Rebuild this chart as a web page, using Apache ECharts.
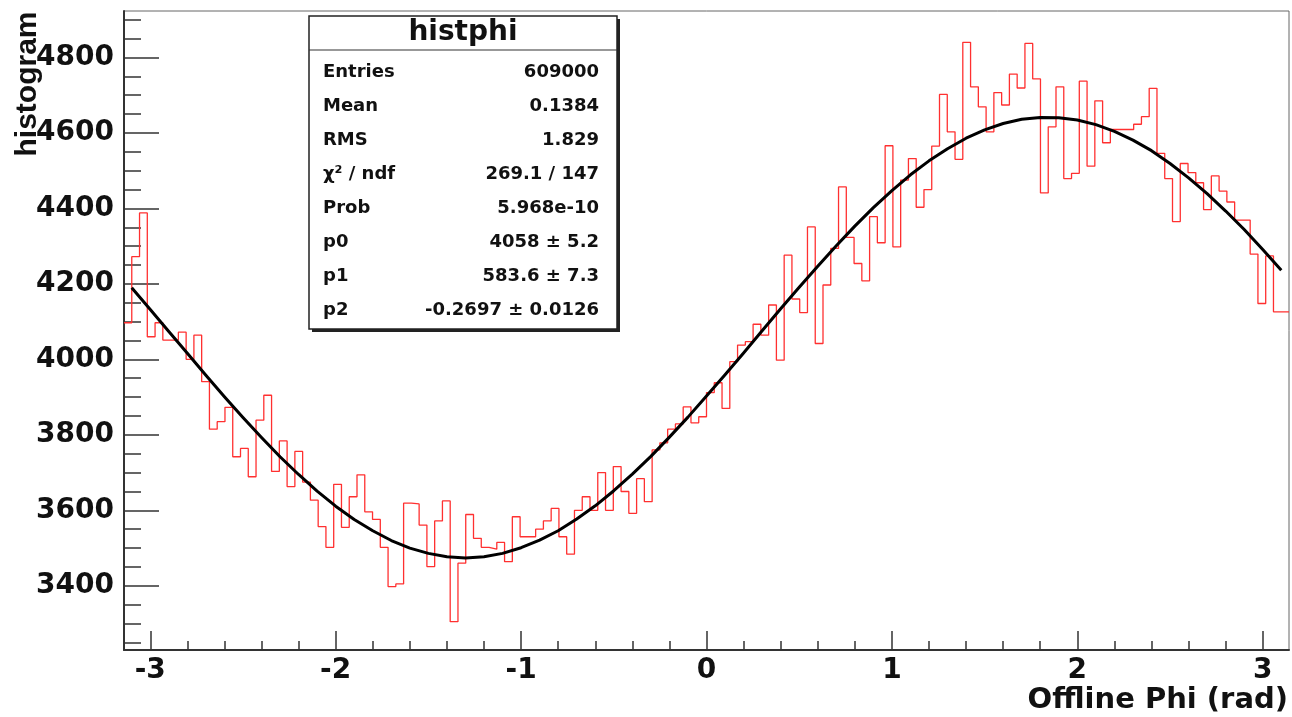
<!DOCTYPE html>
<html>
<head>
<meta charset="utf-8">
<title>histphi</title>
<script src="https://cdn.jsdelivr.net/npm/echarts@6/dist/echarts.min.js"></script>
<style>
  html, body { margin: 0; padding: 0; background: #fff; }
  #chart { width: 1292px; height: 717px; }
</style>
</head>
<body>
<div id="chart"></div>
<script>
// histphi: 150 bins over [-pi, pi], bin contents
const binCounts = [
  4097, 4272, 4388, 4060, 4097, 4051, 4051, 4072, 4000, 4064,
  3941, 3815, 3835, 3873, 3742, 3764, 3689, 3839, 3905, 3703,
  3784, 3663, 3756, 3675, 3627, 3557, 3502, 3669, 3555, 3636,
  3694, 3596, 3576, 3502, 3398, 3405, 3619, 3617, 3561, 3451,
  3572, 3625, 3305, 3460, 3589, 3526, 3502, 3497, 3515, 3464,
  3583, 3530, 3530, 3550, 3572, 3605, 3530, 3484, 3600, 3636,
  3600, 3700, 3600, 3716, 3650, 3592, 3684, 3623, 3760, 3779,
  3815, 3829, 3874, 3832, 3848, 3912, 3938, 3870, 3994, 4038,
  4047, 4093, 4064, 4144, 3998, 4276, 4160, 4124, 4351, 4042,
  4197, 4294, 4457, 4323, 4254, 4208, 4378, 4309, 4566, 4298,
  4475, 4532, 4403, 4450, 4565, 4702, 4603, 4530, 4840, 4722,
  4669, 4603, 4707, 4674, 4756, 4719, 4837, 4743, 4441, 4616,
  4722, 4479, 4493, 4737, 4512, 4685, 4574, 4609, 4609, 4609,
  4623, 4643, 4718, 4546, 4479, 4365, 4519, 4495, 4468, 4397,
  4486, 4446, 4417, 4369, 4369, 4279, 4148, 4274, 4126, 4126
];
const xRange = [-Math.PI, Math.PI];
const yRange = [3230, 4923];

const xMajorTicks = [-3, -2, -1, 0, 1, 2, 3];
const xMinorTicks = [-2.8, -2.6, -2.4, -2.2, -1.8, -1.6, -1.4, -1.2, -0.8, -0.6, -0.4, -0.2,
                     0.2, 0.4, 0.6, 0.8, 1.2, 1.4, 1.6, 1.8, 2.2, 2.4, 2.6, 2.8];
const yMajorTicks = [3400, 3600, 3800, 4000, 4200, 4400, 4600, 4800];
const yMinorTicks = [3250, 3300, 3350, 3450, 3500, 3550, 3650, 3700, 3750, 3850, 3900, 3950,
                     4050, 4100, 4150, 4250, 4300, 4350, 4450, 4500, 4550, 4650, 4700, 4750,
                     4850, 4900];

// fit curve, points every 0.1 rad
const fitX = [
  -3.1, -3.0, -2.9, -2.8, -2.7, -2.6, -2.5, -2.4, -2.3, -2.2, -2.1,
  -2.0, -1.9, -1.8, -1.7, -1.6, -1.5, -1.4, -1.3, -1.2, -1.1,
  -1.0, -0.9, -0.8, -0.7, -0.6, -0.5, -0.4, -0.3, -0.2, -0.1,
  0, 0.1, 0.2, 0.3, 0.4, 0.5, 0.6, 0.7, 0.8, 0.9,
  1.0, 1.1, 1.2, 1.3, 1.4, 1.5, 1.6, 1.7, 1.8, 1.9,
  2.0, 2.1, 2.2, 2.3, 2.4, 2.5, 2.6, 2.7, 2.8, 2.9,
  3.0, 3.1
];
const fitY = [
  4190, 4132, 4074, 4016, 3958, 3901, 3846, 3793, 3742, 3695, 3651,
  3611, 3576, 3546, 3520, 3500, 3486, 3477, 3474, 3477, 3486,
  3501, 3521, 3546, 3577, 3612, 3652, 3696, 3743, 3794, 3847,
  3903, 3959, 4017, 4076, 4134, 4191, 4247, 4301, 4353, 4402,
  4447, 4489, 4526, 4558, 4586, 4608, 4625, 4636, 4641, 4640,
  4634, 4622, 4604, 4581, 4553, 4519, 4481, 4439, 4393, 4344,
  4291, 4236
];

const statTitle = 'histphi';
const statLabels = ['Entries', 'Mean', 'RMS', 'χ² / ndf', 'Prob', 'p0', 'p1', 'p2'];
const statValues = ['609000', '0.1384', '1.829', '269.1 / 147', '5.968e-10',
                    '4058 ± 5.2', '583.6 ± 7.3', '-0.2697 ± 0.0126'];

const binWidth = (xRange[1] - xRange[0]) / binCounts.length;
const histData = binCounts.map((c, i) => [xRange[0] + i * binWidth, c]);
histData.push([xRange[1], binCounts[binCounts.length - 1]]);
const fitData = fitX.map((x, i) => [x, fitY[i]]);

const axisColor = '#333';
const labelFont = {
  fontFamily: 'DejaVu Sans',
  fontWeight: 'bold',
  fontSize: 28,
  color: '#111',
  formatter: v => String(v)
};

// stats box
const box = { x: 309, y: 16, w: 308, h: 313 };
const statElements = [
  { type: 'rect', shape: { x: box.x + 3, y: box.y + 3, width: box.w, height: box.h },
    style: { fill: '#222' } },
  { type: 'rect', shape: { x: box.x, y: box.y, width: box.w, height: box.h },
    style: { fill: '#fff', stroke: '#222', lineWidth: 1.5 } },
  { type: 'line', shape: { x1: box.x, y1: 50, x2: box.x + box.w, y2: 50 },
    style: { stroke: '#333', lineWidth: 1.2 } },
  { type: 'text', x: box.x + box.w / 2, y: 33,
    style: { text: statTitle, font: 'bold 28px "DejaVu Sans"', fill: '#111',
             align: 'center', verticalAlign: 'middle',
             textAlign: 'center', textVerticalAlign: 'middle' } }
];
statLabels.forEach((lab, i) => {
  const y = 72 + i * 34;
  statElements.push({ type: 'text', x: 323, y: y,
    style: { text: lab, font: 'bold 18px "DejaVu Sans"', fill: '#111',
             align: 'left', verticalAlign: 'middle',
             textAlign: 'left', textVerticalAlign: 'middle' } });
  statElements.push({ type: 'text', x: 599, y: y,
    style: { text: statValues[i], font: 'bold 18px "DejaVu Sans"', fill: '#111',
             align: 'right', verticalAlign: 'middle',
             textAlign: 'right', textVerticalAlign: 'middle' } });
});

const chart = echarts.init(document.getElementById('chart'));

const option = {
  animation: false,
  backgroundColor: '#fff',
  grid: {
    left: 124, right: 3, top: 11, bottom: 67,
    show: true, borderColor: '#666', borderWidth: 1
  },
  xAxis: [
    {
      type: 'value', min: xRange[0], max: xRange[1], position: 'bottom',
      axisLine: { show: true, onZero: false, lineStyle: { color: axisColor, width: 2 } },
      axisTick: { show: true, inside: true, length: 19, customValues: xMajorTicks,
                  lineStyle: { color: axisColor, width: 1.5 } },
      axisLabel: Object.assign({ customValues: xMajorTicks, margin: 7 }, labelFont),
      splitLine: { show: false }
    },
    {
      type: 'value', min: xRange[0], max: xRange[1], position: 'bottom',
      axisLine: { show: false, onZero: false },
      axisTick: { show: true, inside: true, length: 9, customValues: xMinorTicks,
                  lineStyle: { color: axisColor, width: 1.5 } },
      axisLabel: { show: false },
      splitLine: { show: false }
    }
  ],
  yAxis: [
    {
      type: 'value', min: yRange[0], max: yRange[1], position: 'left',
      axisLine: { show: true, onZero: false, lineStyle: { color: axisColor, width: 2 } },
      axisTick: { show: true, inside: true, length: 35, customValues: yMajorTicks,
                  lineStyle: { color: axisColor, width: 1.5 } },
      axisLabel: Object.assign({ customValues: yMajorTicks, margin: 10 }, labelFont),
      splitLine: { show: false }
    },
    {
      type: 'value', min: yRange[0], max: yRange[1], position: 'left',
      axisLine: { show: false, onZero: false },
      axisTick: { show: true, inside: true, length: 17, customValues: yMinorTicks,
                  lineStyle: { color: axisColor, width: 1.5 } },
      axisLabel: { show: false },
      splitLine: { show: false }
    }
  ],
  series: [
    {
      name: 'histphi',
      type: 'line',
      step: 'end',
      data: histData,
      symbol: 'none',
      lineStyle: { color: '#ff3030', width: 1.3 },
      z: 2
    },
    {
      name: 'fit',
      type: 'line',
      data: fitData,
      symbol: 'none',
      lineStyle: { color: '#000', width: 3, join: 'round' },
      z: 3
    }
  ],
  graphic: [
    { type: 'group', z: 100, children: statElements },
    { type: 'text', x: 1288, y: 686, z: 100,
      style: { text: 'Offline Phi (rad)', font: 'bold 29px "DejaVu Sans"', fill: '#111',
               align: 'right', verticalAlign: 'top',
               textAlign: 'right', textVerticalAlign: 'top' } },
    { type: 'text', x: 28, y: 84, rotation: Math.PI / 2, z: 100,
      style: { text: 'histogram', font: 'bold 30px "Liberation Sans"', fill: '#111',
               align: 'center', verticalAlign: 'middle',
               textAlign: 'center', textVerticalAlign: 'middle' } }
  ]
};

chart.setOption(option);
</script>
</body>
</html>
